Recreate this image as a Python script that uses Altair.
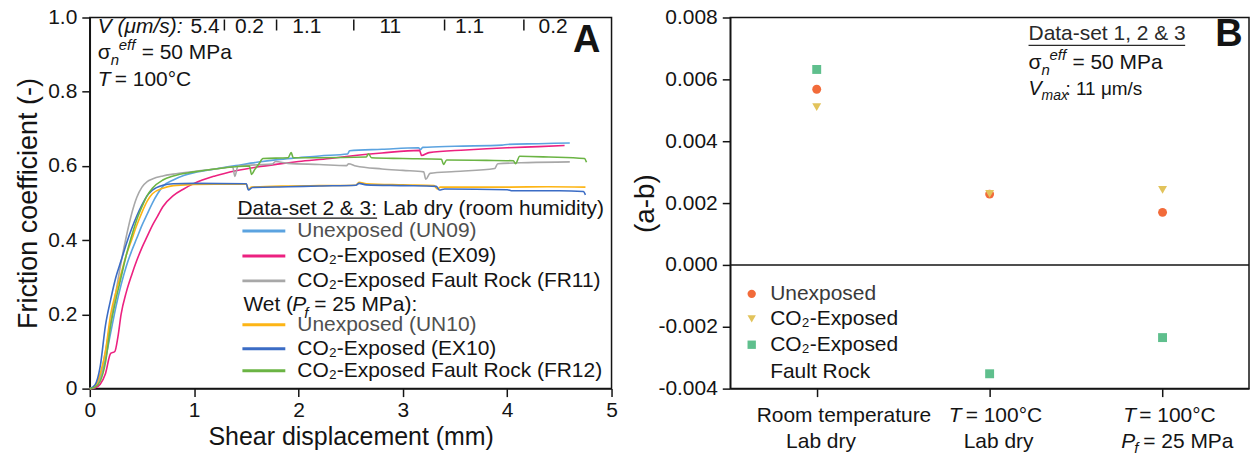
import altair as alt
import pandas as pd

FONT = "Liberation Sans"
INK = "#141414"

# ---------------- Panel A : friction curves ----------------
series_names = ["UN09", "EX09", "FR11", "UN10", "EX10", "FR12"]
series_colors = ["#5ba3e0", "#ec2180", "#a8a8a8", "#fdb515", "#3b6cc5", "#6bb444"]
legend_labels = ["Unexposed (UN09)", "CO\u2082-Exposed (EX09)", "CO\u2082-Exposed Fault Rock (FR11)",
                 "Unexposed (UN10)", "CO\u2082-Exposed (EX10)", "CO\u2082-Exposed Fault Rock (FR12)"]

un09_x = [0, 0.05, 0.1, 0.15, 0.2, 0.25, 0.3, 0.35, 0.4, 0.45, 0.5, 0.55, 0.6, 0.65, 0.7, 0.8, 0.9, 1.0, 1.2, 1.4,
          1.6, 1.8, 2.0, 2.2, 2.47, 2.49, 2.8, 3.15, 3.17, 3.19, 3.5, 3.95, 4.0, 4.3, 4.6]
un09_y = [0, 0.004, 0.03, 0.08, 0.15, 0.22, 0.28, 0.33, 0.37, 0.405, 0.44, 0.47, 0.5, 0.525, 0.545, 0.562, 0.574, 0.582, 0.592, 0.601,
          0.61, 0.617, 0.622, 0.627, 0.632, 0.641, 0.645, 0.649, 0.644, 0.65, 0.653, 0.656, 0.658, 0.66, 0.662]

ex09_x = [0, 0.05, 0.1, 0.15, 0.2, 0.24, 0.27, 0.3, 0.35, 0.4, 0.45, 0.5, 0.55, 0.6, 0.65, 0.7, 0.8, 0.9, 1.0, 1.2,
          1.4, 1.6, 1.8, 2.0, 2.3, 2.5, 2.8, 3.16, 3.18, 3.25, 3.6, 4.0, 4.3, 4.55]
ex09_y = [0, 0.002, 0.012, 0.04, 0.095, 0.1, 0.14, 0.2, 0.26, 0.305, 0.345, 0.38, 0.41, 0.44, 0.465, 0.49, 0.52, 0.538, 0.553, 0.573,
          0.587, 0.597, 0.605, 0.612, 0.62, 0.627, 0.635, 0.642, 0.628, 0.636, 0.643, 0.649, 0.652, 0.655]

fr11_x = [0, 0.05, 0.1, 0.15, 0.2, 0.25, 0.3, 0.35, 0.4, 0.45, 0.5, 0.55, 0.6, 0.7, 0.8, 1.0, 1.2, 1.37, 1.39, 1.42,
          1.6, 1.75, 1.78, 1.9, 2.2, 2.46, 2.48, 2.55, 2.8, 3.0, 3.2, 3.22, 3.26, 3.5, 3.88, 3.91, 4.2, 4.6]
fr11_y = [0, 0.005, 0.03, 0.1, 0.18, 0.26, 0.34, 0.41, 0.47, 0.515, 0.543, 0.558, 0.565, 0.573, 0.578, 0.585, 0.592, 0.597, 0.572, 0.6,
          0.603, 0.605, 0.612, 0.607, 0.604, 0.601, 0.606, 0.6, 0.592, 0.588, 0.584, 0.564, 0.58, 0.585, 0.593, 0.606, 0.609, 0.611]

un10_x = [0, 0.05, 0.1, 0.15, 0.2, 0.25, 0.3, 0.35, 0.4, 0.45, 0.5, 0.55, 0.6, 0.7, 0.8, 1.0, 1.2, 1.5, 1.52, 1.55,
          1.9, 2.2, 2.55, 2.58, 2.65, 3.0, 3.3, 3.33, 3.36, 4.0, 4.4, 4.75]
un10_y = [0, 0.006, 0.04, 0.1, 0.2, 0.26, 0.31, 0.36, 0.4, 0.44, 0.475, 0.505, 0.525, 0.54, 0.547, 0.55, 0.551, 0.551, 0.537, 0.543,
          0.546, 0.547, 0.548, 0.556, 0.552, 0.549, 0.547, 0.538, 0.543, 0.543, 0.544, 0.543]

ex10_x = [0, 0.05, 0.1, 0.15, 0.2, 0.25, 0.3, 0.35, 0.4, 0.45, 0.5, 0.55, 0.6, 0.7, 0.8, 1.0, 1.5, 1.52, 1.56, 1.9,
          2.2, 2.55, 2.58, 2.65, 3.0, 3.32, 3.35, 3.4, 4.0, 4.05, 4.5, 4.73, 4.75]
ex10_y = [0, 0.01, 0.06, 0.17, 0.24, 0.3, 0.345, 0.39, 0.43, 0.465, 0.495, 0.52, 0.535, 0.548, 0.552, 0.553, 0.552, 0.535, 0.542, 0.544,
          0.546, 0.548, 0.553, 0.549, 0.547, 0.545, 0.535, 0.538, 0.536, 0.533, 0.533, 0.531, 0.522]

fr12_x = [0, 0.05, 0.1, 0.15, 0.2, 0.25, 0.3, 0.35, 0.4, 0.45, 0.5, 0.55, 0.6, 0.7, 0.8, 1.0, 1.2, 1.4, 1.53, 1.55,
          1.58, 1.62, 1.66, 1.9, 1.93, 1.95, 2.2, 2.65, 2.67, 2.7, 3.0, 3.37, 3.39, 3.42, 3.8, 4.06, 4.08, 4.12, 4.4, 4.74, 4.76]
fr12_y = [0, 0.004, 0.02, 0.07, 0.17, 0.24, 0.3, 0.36, 0.41, 0.455, 0.49, 0.52, 0.54, 0.562, 0.573, 0.584, 0.592, 0.598, 0.6, 0.577,
          0.59, 0.605, 0.62, 0.622, 0.636, 0.622, 0.622, 0.624, 0.633, 0.622, 0.62, 0.618, 0.604, 0.616, 0.615, 0.614, 0.606, 0.626, 0.624, 0.62, 0.61]

# velocity-step boundaries (mm) and the velocity labels of the segments
step_ticks = [1.29, 1.79, 2.53, 3.40, 4.16]
vel_labels = ["0.2", "1.1", "11", "1.1", "0.2"]
vel_label_x = [1.53, 2.08, 2.88, 3.64, 4.44]

x_ticks_a = [0, 1, 2, 3, 4, 5]
y_ticks_a = [0, 0.2, 0.4, 0.6, 0.8, 1.0]

# ---------------- Panel B : (a-b) ----------------
conditions = ["Room temperature / Lab dry", "T = 100\u00b0C / Lab dry", "T = 100\u00b0C / Pf = 25 MPa"]
samples = ["Unexposed", "CO2-Exposed", "CO2-Exposed Fault Rock"]
sample_colors = ["#f26b3a", "#e2c35b", "#5fbf8d"]
sample_shapes = ["circle", "triangle-down", "square"]
ab_unexposed = [0.00568, 0.00229, 0.00170]
ab_exposed = [0.00510, 0.00230, 0.00243]
ab_faultrock = [0.00632, -0.00352, -0.00235]
y_ticks_b = [-0.004, -0.002, 0.0, 0.002, 0.004, 0.006, 0.008]

# ---------------- tables ----------------
rows = []
for name, xs, ys in zip(series_names,
                        [un09_x, ex09_x, fr11_x, un10_x, ex10_x, fr12_x],
                        [un09_y, ex09_y, fr11_y, un10_y, ex10_y, fr12_y]):
    for i, (xv, yv) in enumerate(zip(xs, ys)):
        rows.append({"series": name, "x": xv, "y": yv, "i": i})
df_a = pd.DataFrame(rows)

rows_b = []
for s, vals in zip(samples, [ab_unexposed, ab_exposed, ab_faultrock]):
    for c, v in zip(conditions, vals):
        rows_b.append({"cond": c, "sample": s, "ab": v})
df_b = pd.DataFrame(rows_b)

ONE = pd.DataFrame({"k": [0]})


def txt(s, x, y, size=21, style="normal", weight="normal", align="left", color=INK, font=FONT):
    return alt.Chart(ONE).mark_text(
        text=s, font=font, fontSize=size, fontStyle=style, fontWeight=weight,
        align=align, baseline="middle", color=color
    ).encode(x=alt.value(x), y=alt.value(y))


def hline(x1, x2, y, color=INK, width=1.3):
    return alt.Chart(ONE).mark_rule(color=color, strokeWidth=width).encode(
        x=alt.value(x1), x2=alt.value(x2), y=alt.value(y))


# ---------------- Panel A layers ----------------
lines = alt.Chart(df_a).mark_line(strokeWidth=1.6, interpolate="monotone").encode(
    x=alt.X("x:Q", scale=alt.Scale(domain=[0, 5], nice=False),
            axis=alt.Axis(values=x_ticks_a, format="d", title="Shear displacement (mm)",
                          labelFlush=False, labelPadding=3, titlePadding=4)),
    y=alt.Y("y:Q", scale=alt.Scale(domain=[0, 1], nice=False),
            axis=alt.Axis(values=y_ticks_a,
                          labelExpr="datum.value == 0 ? '0' : format(datum.value, '.1f')",
                          title="Friction coefficient (-)", labelFlush=False,
                          labelPadding=5, titlePadding=5, titleFontSize=27)),
    color=alt.Color("series:N", scale=alt.Scale(domain=series_names, range=series_colors), legend=None),
    order=alt.Order("i:Q"),
)

vticks = alt.Chart(pd.DataFrame({"x": step_ticks})).mark_rule(color=INK, strokeWidth=1.5).encode(
    x="x:Q", y=alt.value(2), y2=alt.value(13))
vlabs = alt.Chart(pd.DataFrame({"x": vel_label_x, "t": vel_labels})).mark_text(
    font=FONT, fontSize=21, color=INK, align="center", baseline="middle").encode(
    x="x:Q", y=alt.value(10), text="t:N")

a_layers = [lines, vticks, vlabs,
            txt("V (\u03bcm/s):", 8, 10, style="italic"),
            txt("5.4", 101, 10),
            txt("\u03c3", 8, 36),
            txt("n", 21, 43, size=15, style="italic"),
            txt("eff", 29, 28, size=15, style="italic"),
            txt("= 50 MPa", 52, 36),
            txt("T", 8, 63, style="italic"),
            txt("= 100\u00b0C", 25, 63),
            txt("A", 498, 24, size=38, weight="bold", align="center"),
            txt("Data-set 2 & 3: Lab dry (room humidity)", 148, 192),
            hline(148, 288, 201),
            txt("Wet (", 154, 288),
            txt("P", 203, 288, style="italic"),
            txt("f", 215, 296, size=15, style="italic"),
            txt("= 25 MPa):", 225, 288)]

legend_rows_y = [214, 239, 264, 308, 332, 354]
for lab, col, yy in zip(legend_labels, series_colors, legend_rows_y):
    tcol = "#505050" if lab.startswith("Unexposed") else INK
    a_layers.append(hline(153, 196, yy, color=col, width=3))
    a_layers.append(txt(lab, 208, yy, color=tcol))

panel_a = alt.layer(*a_layers).properties(width=523, height=372)

# ---------------- Panel B layers ----------------
zero = alt.Chart(pd.DataFrame({"ab": [0.0]})).mark_rule(color=INK, strokeWidth=1.5).encode(y="ab:Q")

pts = alt.Chart(df_b).mark_point(filled=True, size=80, opacity=1).encode(
    x=alt.X("cond:N", sort=conditions, scale=alt.Scale(type="point", padding=0.5),
            axis=alt.Axis(labels=False, title=None, ticks=True, tickSize=8)),
    y=alt.Y("ab:Q", scale=alt.Scale(domain=[-0.004, 0.008], nice=False),
            axis=alt.Axis(values=y_ticks_b,
                          labelExpr="replace(format(datum.value, '.3f'), '\u2212', '-')",
                          title="(a-b)", labelPadding=5, titleX=-71, titleY=186, titleFontSize=28)),
    shape=alt.Shape("sample:N", scale=alt.Scale(domain=samples, range=sample_shapes), legend=None),
    color=alt.Color("sample:N", scale=alt.Scale(domain=samples, range=sample_colors), legend=None),
)


def marker(shape, color, x, y):
    return alt.Chart(ONE).mark_point(filled=True, shape=shape, size=70, color=color, opacity=1).encode(
        x=alt.value(x), y=alt.value(y))


b_layers = [zero, pts,
            txt("Data-set 1, 2 & 3", 299, 17, color="#2a2a2a"),
            hline(299, 456, 28, color="#2a2a2a", width=1.2),
            txt("\u03c3", 299, 46),
            txt("n", 312, 53, size=15, style="italic"),
            txt("eff", 320, 38, size=15, style="italic"),
            txt("= 50 MPa", 343, 46),
            txt("V", 299, 72, size=20, style="italic"),
            txt("max", 312, 79, size=14, style="italic"),
            txt(": 11 \u03bcm/s", 336, 72, size=19),
            txt("B", 500, 18, size=38, weight="bold", align="center"),
            marker(sample_shapes[0], sample_colors[0], 21.5, 277),
            marker(sample_shapes[1], sample_colors[1], 21.5, 302),
            marker(sample_shapes[2], sample_colors[2], 21.5, 328),
            txt("Unexposed", 40, 277, color="#3a3a3a"),
            txt("CO\u2082-Exposed", 40, 302),
            txt("CO\u2082-Exposed", 40, 328),
            txt("Fault Rock", 40, 355),
            # category labels under the axis
            txt("Room temperature", 114, 399, align="center"),
            txt("Lab dry", 91, 426, align="center"),
            txt("T", 219, 399, style="italic"),
            txt("= 100\u00b0C", 236, 399),
            txt("Lab dry", 269, 426, align="center"),
            txt("T", 394, 399, style="italic"),
            txt("= 100\u00b0C", 410, 399),
            txt("P", 392, 426, style="italic"),
            txt("f", 405, 432, size=15, style="italic"),
            txt("= 25 MPa", 414, 426)]

panel_b = alt.layer(*b_layers).properties(width=520, height=372)

chart = alt.hconcat(panel_a, panel_b, spacing=119, bounds="flush").resolve_scale(
    color="independent", shape="independent"
).configure_view(
    stroke=INK, strokeWidth=1.5
).configure_axis(
    grid=False, domainColor=INK, domainWidth=1.5, tickColor=INK, tickWidth=1.5, tickSize=8,
    labelFont=FONT, labelFontSize=21, labelColor=INK,
    titleFont=FONT, titleFontSize=25, titleFontWeight="normal", titleColor=INK,
).properties(
    padding={"left": 14, "top": 5, "right": 1, "bottom": 1},
    background="white",
)

chart.save("out.html", embed_options={"renderer": "svg", "actions": False})
